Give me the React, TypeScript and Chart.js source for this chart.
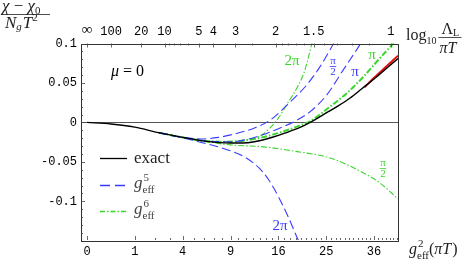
import React, { useEffect, useRef } from 'react';
import { Chart, registerables } from 'chart.js';
Chart.register(...registerables);

// ---------- data (x = g_eff = sqrt(g_eff^2)) ----------
const exactG = [0, 0.5, 1, 1.5, 2, 2.5, 3, 3.25, 3.5, 3.75, 4, 4.25, 4.5, 4.75, 5, 5.25, 5.5, 5.75, 6, 6.25, 6.5];
const exactY = [0, -0.002, -0.006, -0.013, -0.019, -0.024, -0.026, -0.026, -0.0245, -0.021, -0.0165, -0.011, -0.005, 0.003, 0.012, 0.021, 0.031, 0.043, 0.055, 0.068, 0.081];

const bandG = [5.8, 6.0, 6.25, 6.5];
const bandY = [0.0445, 0.0565, 0.0705, 0.0845];

const g5HalfPiG = [1.5, 2, 2.375, 2.75, 3.06, 3.5, 3.83, 4.25, 4.6, 4.875, 5.06, 5.2];
const g5HalfPiY = [-0.013, -0.019, -0.021, -0.019, -0.015, -0.007, 0.003, 0.026, 0.048, 0.071, 0.09, 0.105];

const g5PiG = [1.5, 2, 2.5, 3, 3.5, 4, 4.39, 4.67, 5.0, 5.35, 5.72, 5.8];
const g5PiY = [-0.013, -0.019, -0.0235, -0.0245, -0.019, -0.008, 0.003, 0.014, 0.034, 0.066, 0.1, 0.108];

const g5TwoPiG = [1.5, 2, 2.5, 3, 3.33, 3.6, 3.8, 4.0, 4.2, 4.4, 4.5];
const g5TwoPiY = [-0.013, -0.0195, -0.027, -0.036, -0.045, -0.058, -0.073, -0.094, -0.119, -0.147, -0.16];

const g6HalfPiG = [1.5, 2, 2.5, 3, 3.69, 4.39, 5.08, 5.78, 6.13, 6.5];
const g6HalfPiY = [-0.013, -0.019, -0.0245, -0.0285, -0.031, -0.037, -0.045, -0.064, -0.077, -0.097];

const g6PiG = [1.5, 2, 2.5, 3, 3.5, 4, 4.4, 4.65, 5.08, 5.43, 5.78, 6.1, 6.4, 6.5];
const g6PiY = [-0.013, -0.019, -0.0235, -0.0245, -0.021, -0.0135, -0.005, 0.001, 0.020, 0.037, 0.058, 0.08, 0.1, 0.107];

const g6TwoPiG = [1.5, 2, 2.5, 3, 3.3, 3.65, 3.97, 4.21, 4.39, 4.53, 4.63, 4.70, 4.75];
const g6TwoPiY = [-0.013, -0.019, -0.0245, -0.024, -0.022, -0.016, 0.003, 0.026, 0.044, 0.062, 0.083, 0.1, 0.112];

// ---------- ticks ----------
const bottomTickLabels = [0, 1, 4, 9, 16, 25, 36];        // g_eff^2 values
const bottomMinorMax = 42;                                   // minor ticks at every integer g^2
const topTickValues = [Infinity, 100, 20, 10, 5, 4, 3, 2, 1.5, 1];
const topTickLabels = ['∞', '100', '20', '10', '5', '4', '3', '2', '1.5', '1'];
const topMinorValues = [9, 8, 7, 6, 2.5, 1.9, 1.8, 1.7, 1.6, 1.4, 1.3, 1.2, 1.1];
const yTickValues = [0.1, 0.05, 0, -0.05, -0.1];
const yTickLabels = ['0.1', '0.05', '0', '-0.05', '-0.1'];

const X_MIN = -0.125, X_MAX = 6.5, Y_MIN = -0.149, Y_MAX = 0.1;

// mapping of the top-axis quantity to g_eff
const gOfTop = (L: number) => (L === Infinity ? 0 : 1 / Math.sqrt(0.0395 * L - 0.0147));

const SERIF = "'Liberation Serif', 'DejaVu Serif', serif";
const MONO = "'Liberation Mono', 'DejaVu Sans Mono', monospace";
const BLUE = '#3b3bff';
const GREEN = '#3ad62a';
const font = (size: number, italic = false, fam = SERIF) => `${italic ? 'italic ' : ''}${size}px ${fam}`;

const pts = (xs: number[], ys: number[]) => xs.map((x, i) => ({ x, y: ys[i] }));

function drawGeff(ctx: CanvasRenderingContext2D, x: number, base: number, sup: string, size: number, color: string) {
  ctx.fillStyle = color;
  ctx.font = font(size, true);
  ctx.fillText('g', x, base);
  const gw = ctx.measureText('g').width;
  const small = Math.round(size * 0.66);
  ctx.font = font(small, false);
  ctx.fillText(sup, x + gw + 1, base - size * 0.42);
  ctx.fillText('eff', x + gw, base + size * 0.3);
  return x + gw + ctx.measureText('eff').width;
}

function drawFrac(ctx: CanvasRenderingContext2D, cx: number, barY: number, num: string, den: string, size: number, color: string) {
  ctx.fillStyle = color;
  ctx.strokeStyle = color;
  ctx.font = font(size, false);
  ctx.textAlign = 'center';
  ctx.fillText(num, cx, barY - 2);
  ctx.fillText(den, cx, barY + size * 0.8);
  ctx.textAlign = 'left';
  const w = Math.max(ctx.measureText(num).width, ctx.measureText(den).width) + 1;
  ctx.lineWidth = 0.8;
  ctx.beginPath();
  ctx.moveTo(cx - w / 2, barY + 0.5);
  ctx.lineTo(cx + w / 2, barY + 0.5);
  ctx.stroke();
}

const decor = {
  id: 'decor',
  beforeDatasetsDraw(chart: any) {
    const { ctx, chartArea, scales } = chart;
    const y0 = Math.round(scales.y.getPixelForValue(0)) + 0.5;
    ctx.save();
    ctx.strokeStyle = '#555';
    ctx.lineWidth = 1;
    ctx.beginPath();
    ctx.moveTo(chartArea.left, y0);
    ctx.lineTo(chartArea.right, y0);
    ctx.stroke();
    ctx.restore();
  },
  afterDatasetsDraw(chart: any) {
    const { ctx, chartArea, scales } = chart;
    const { left, right, top, bottom } = chartArea;
    const xs = scales.x, ys = scales.y;
    ctx.save();
    ctx.strokeStyle = '#333';
    ctx.lineWidth = 1;
    ctx.strokeRect(Math.round(left) + 0.5, Math.round(top) + 0.5, Math.round(right - left), Math.round(bottom - top));
    ctx.lineWidth = 0.8;
    ctx.strokeStyle = '#444';
    for (let k = -14; k <= 10; k++) {
      const v = k / 100;
      const py = Math.round(ys.getPixelForValue(v)) + 0.5;
      const len = k % 5 === 0 ? 4 : 2;
      ctx.beginPath();
      ctx.moveTo(left, py);
      ctx.lineTo(left + len, py);
      ctx.stroke();
    }
    for (let n = 0; n <= bottomMinorMax; n++) {
      const px = Math.round(xs.getPixelForValue(Math.sqrt(n))) + 0.5;
      const len = bottomTickLabels.includes(n) ? 4 : 2;
      ctx.beginPath();
      ctx.moveTo(px, bottom);
      ctx.lineTo(px, bottom - len);
      ctx.stroke();
    }
    const drawTop = (L: number, len: number) => {
      const px = Math.round(xs.getPixelForValue(gOfTop(L))) + 0.5;
      ctx.beginPath();
      ctx.moveTo(px, top);
      ctx.lineTo(px, top + len);
      ctx.stroke();
    };
    topTickValues.forEach((L) => drawTop(L, 4));
    topMinorValues.forEach((L) => drawTop(L, 2));

    ctx.textBaseline = 'alphabetic';
    ctx.fillStyle = '#000';
    ctx.font = font(16, true);
    ctx.fillText('μ', 111, 76);
    const mw = ctx.measureText('μ').width;
    ctx.font = font(16, false);
    ctx.fillText(' = 0', 111 + mw, 76);

    // legend
    ctx.lineWidth = 1.3;
    ctx.strokeStyle = '#000';
    ctx.setLineDash([]);
    ctx.beginPath(); ctx.moveTo(100, 158.5); ctx.lineTo(127, 158.5); ctx.stroke();
    ctx.font = font(17, false);
    ctx.fillStyle = '#222';
    ctx.fillText('exact', 134, 163);

    ctx.strokeStyle = BLUE;
    ctx.lineWidth = 1.3;
    ctx.setLineDash([10, 5]);
    ctx.beginPath(); ctx.moveTo(100, 185.5); ctx.lineTo(127, 185.5); ctx.stroke();
    ctx.setLineDash([]);
    drawGeff(ctx, 134, 188, '5', 17, '#444');

    ctx.strokeStyle = GREEN;
    ctx.lineWidth = 1.3;
    ctx.setLineDash([5, 2, 1.5, 2]);
    ctx.beginPath(); ctx.moveTo(100, 211.5); ctx.lineTo(127, 211.5); ctx.stroke();
    ctx.setLineDash([]);
    drawGeff(ctx, 134, 214, '6', 17, '#444');

    // curve labels
    ctx.font = font(15, false);
    ctx.fillStyle = GREEN;
    ctx.textAlign = 'center';
    ctx.fillText('2π', 292, 65);
    ctx.fillText('π', 372, 59);
    ctx.fillStyle = BLUE;
    ctx.fillText('π', 355, 76);
    ctx.fillText('2π', 280, 230);
    ctx.textAlign = 'left';
    drawFrac(ctx, 333, 66, 'π', '2', 11, BLUE);
    drawFrac(ctx, 383, 168, 'π', '2', 11, GREEN);

    // y title (fraction)
    ctx.fillStyle = '#222';
    ctx.font = font(17, true);
    let x = 2;
    ctx.fillText('χ', x, 11); x += ctx.measureText('χ').width;
    ctx.font = font(17, false);
    ctx.fillText(' − ', x, 11); x += ctx.measureText(' − ').width;
    ctx.font = font(17, true);
    ctx.fillText('χ', x, 11); x += ctx.measureText('χ').width;
    ctx.font = font(11, false);
    ctx.fillText('0', x, 14);
    ctx.strokeStyle = '#222';
    ctx.lineWidth = 0.8;
    ctx.beginPath(); ctx.moveTo(1, 14.5); ctx.lineTo(50, 14.5); ctx.stroke();
    x = 5;
    ctx.font = font(17, true);
    ctx.fillText('N', x, 28); x += ctx.measureText('N').width;
    ctx.font = font(11, true);
    ctx.fillText('g', x, 30); x += ctx.measureText('g').width + 1;
    ctx.font = font(17, true);
    ctx.fillText('T', x, 28); x += ctx.measureText('T').width;
    ctx.font = font(11, false);
    ctx.fillText('2', x, 21);

    // top-right title
    ctx.font = font(16, false);
    ctx.fillText('log', 406, 40);
    let lx = 406 + ctx.measureText('log').width;
    ctx.font = font(10, false);
    ctx.fillText('10', lx, 44);
    lx += ctx.measureText('10').width + 2;
    ctx.font = font(16, false);
    const lw = ctx.measureText('Λ').width;
    ctx.fillText('Λ', lx + 3, 34);
    ctx.font = font(10, false);
    ctx.fillText('L', lx + 3 + lw, 36);
    ctx.font = font(16, true);
    ctx.fillText('πT', lx + 1, 53);
    ctx.beginPath(); ctx.moveTo(lx, 37.5); ctx.lineTo(lx + 23, 37.5); ctx.stroke();

    // bottom-right title
    let bx = drawGeff(ctx, 409, 254, '2', 16, '#222');
    ctx.fillStyle = '#222';
    ctx.font = font(16, false);
    ctx.fillText('(', bx, 254); bx += ctx.measureText('(').width;
    ctx.font = font(16, true);
    ctx.fillText('πT', bx, 254); bx += ctx.measureText('πT').width + 1;
    ctx.font = font(16, false);
    ctx.fillText(')', bx, 254);
    ctx.restore();
  },
};

export default function App() {
  const ref = useRef<HTMLCanvasElement | null>(null);
  useEffect(() => {
    if (!ref.current) return;
    const line = (data: any, color: string, width: number, dash: number[], order: number) => ({
      data,
      borderColor: color,
      borderWidth: width,
      borderDash: dash,
      pointRadius: 0,
      fill: false,
      cubicInterpolationMode: 'monotone',
      clip: 0,
      order,
    });
    const chart = new Chart(ref.current, {
      type: 'line',
      data: {
        datasets: [
          line(pts(exactG, exactY), '#000', 1.4, [], 0),
          line(pts(bandG, bandY), '#e01010', 2, [], 1),
          line(pts(g5HalfPiG, g5HalfPiY), BLUE, 1.1, [9, 4], 2),
          line(pts(g5PiG, g5PiY), BLUE, 1.1, [9, 4], 2),
          line(pts(g5TwoPiG, g5TwoPiY), BLUE, 1.1, [9, 4], 2),
          line(pts(g6HalfPiG, g6HalfPiY), GREEN, 1.1, [6, 2, 1.5, 2], 2),
          line(pts(g6PiG, g6PiY), GREEN, 2, [6, 2, 1.5, 2], 2),
          line(pts(g6TwoPiG, g6TwoPiY), GREEN, 1.1, [6, 2, 1.5, 2], 2),
        ] as any,
      },
      options: {
        animation: false,
        responsive: false,
        events: [],
        layout: { padding: { left: 0, right: 69, top: 0, bottom: 0 } },
        plugins: { legend: { display: false }, tooltip: { enabled: false } },
        scales: {
          x: {
            type: 'linear',
            position: 'bottom',
            min: X_MIN,
            max: X_MAX,
            grid: { display: false, drawTicks: false },
            border: { display: false },
            afterBuildTicks: (s: any) => { s.ticks = bottomTickLabels.map((v) => ({ value: Math.sqrt(v) })); },
            afterFit: (s: any) => { s.height = 26; },
            ticks: {
              autoSkip: false, maxRotation: 0, padding: 5, color: '#000',
              font: { family: MONO, size: 12 },
              callback: (_v: any, i: number) => String(bottomTickLabels[i]),
            },
          },
          x2: {
            type: 'linear',
            position: 'top',
            min: X_MIN,
            max: X_MAX,
            grid: { display: false, drawTicks: false },
            border: { display: false },
            afterBuildTicks: (s: any) => { s.ticks = topTickValues.map((L) => ({ value: gOfTop(L) })); },
            afterFit: (s: any) => { s.height = 43.5; },
            ticks: {
              autoSkip: false, maxRotation: 0, padding: 4, color: '#000',
              font: (c: any) => (c.index === 0 ? { family: SERIF, size: 15 } : { family: MONO, size: 12 }),
              callback: (_v: any, i: number) => topTickLabels[i],
            },
          },
          y: {
            type: 'linear',
            min: Y_MIN,
            max: Y_MAX,
            grid: { display: false, drawTicks: false },
            border: { display: false },
            afterBuildTicks: (s: any) => { s.ticks = yTickValues.map((v) => ({ value: v })); },
            afterFit: (s: any) => { s.width = 81; },
            ticks: {
              autoSkip: false, padding: 4, color: '#000',
              font: { family: MONO, size: 12 },
              callback: (_v: any, i: number) => yTickLabels[i],
            },
          },
        },
      } as any,
      plugins: [decor],
    });
    return () => chart.destroy();
  }, []);
  return (
    <div style={{ position: 'absolute', left: 0, top: 0, width: 467, height: 266, background: '#fff' }}>
      <canvas ref={ref} width={467} height={266} style={{ display: 'block' }} />
    </div>
  );
}
